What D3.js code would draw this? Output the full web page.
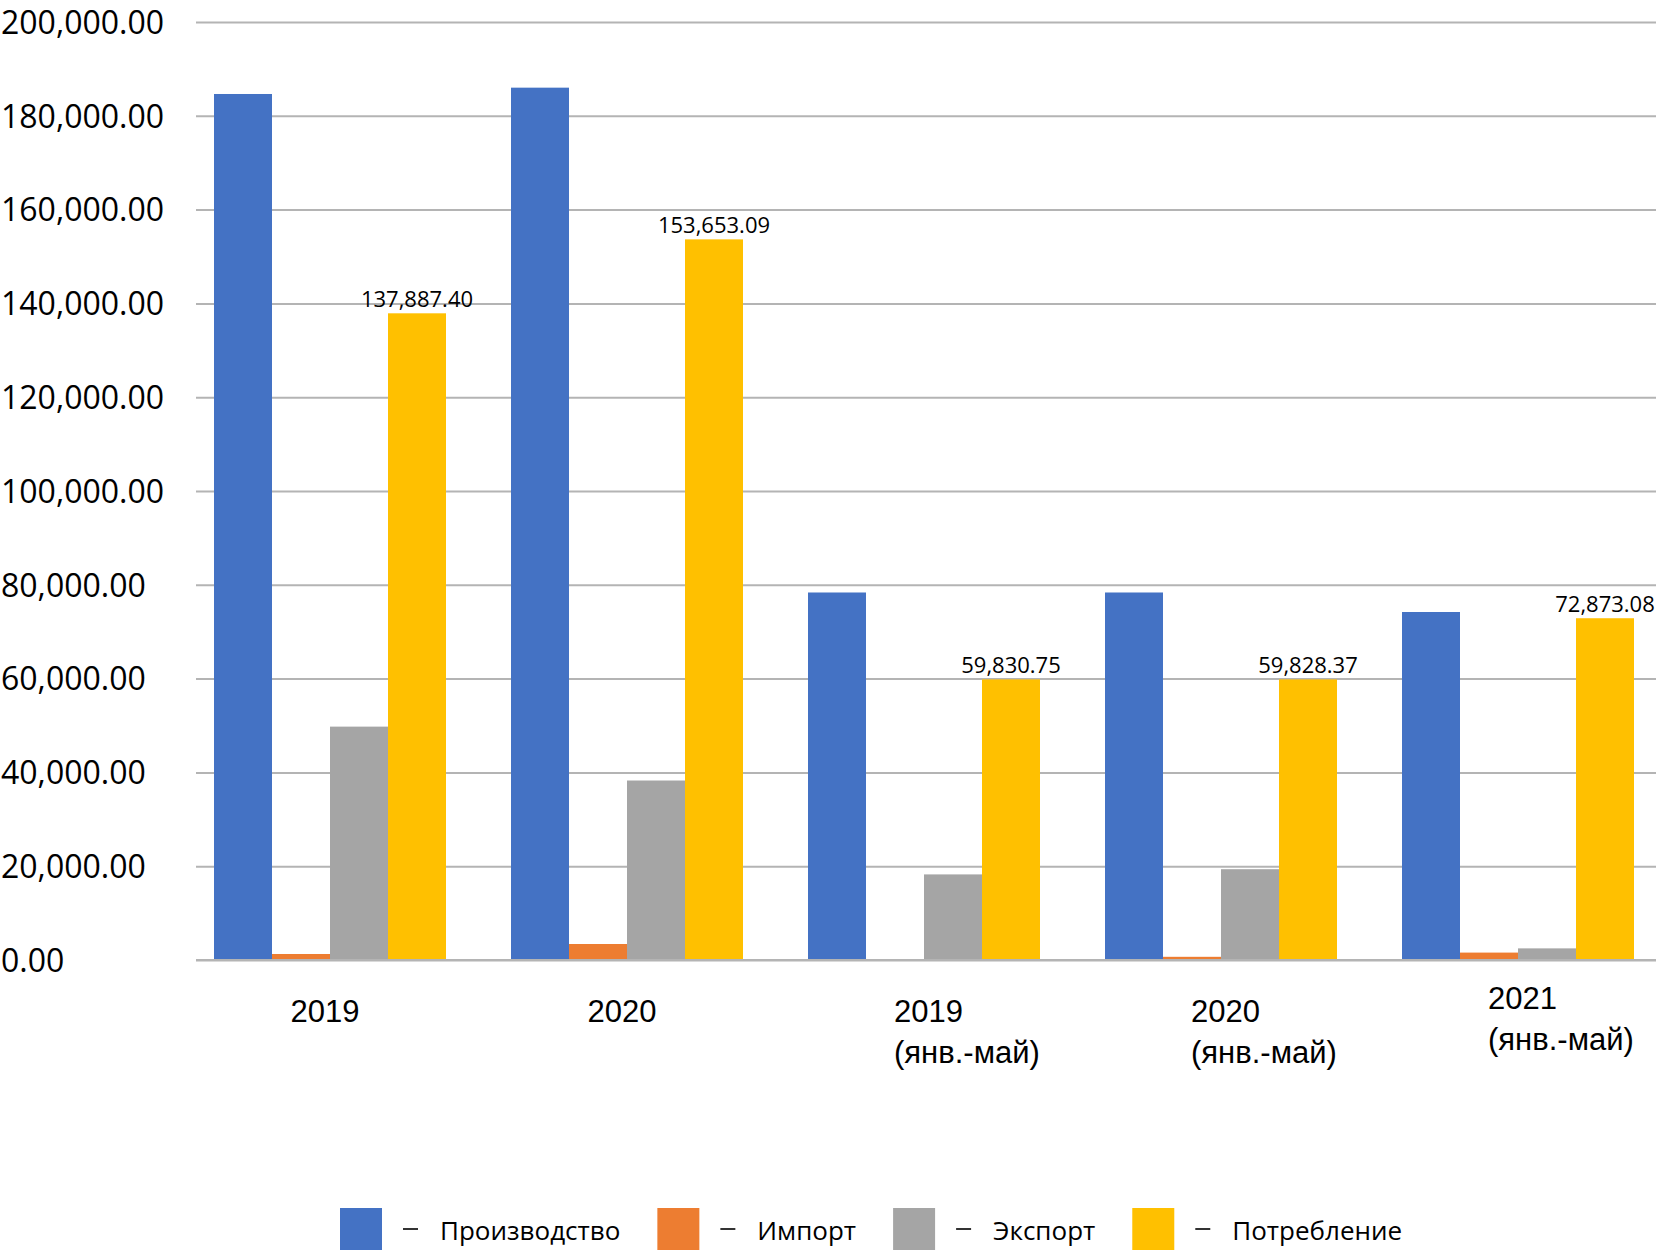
<!DOCTYPE html>
<html>
<head>
<meta charset="utf-8">
<script src="https://cdn.jsdelivr.net/npm/d3@7"></script>
<style>
  html, body { margin: 0; padding: 0; background: #fff; }
  svg { display: block; font-family: "Open Sans", "Noto Sans", sans-serif; }
</style>
</head>
<body>
<svg id="chart" width="1656" height="1250"></svg>
<script>
// ---- data ----
const categories = ["2019", "2020", "2019\n(янв.-май)", "2020\n(янв.-май)", "2021\n(янв.-май)"];
const seriesNames = ["Производство", "Импорт", "Экспорт", "Потребление"];
const production  = [184650, 186000, 78360, 78360, 74200];
const imports     = [1280, 3410, 0, 680, 1580];
const exports     = [49760, 38270, 18250, 19360, 2480];
const consumption = [137887.40, 153653.09, 59830.75, 59828.37, 72873.08];
const yTicks = [0, 20000, 40000, 60000, 80000, 100000, 120000, 140000, 160000, 180000, 200000];
const colors = ["#4472C4", "#ED7D31", "#A5A5A5", "#FFC000"];

const seriesValues = [production, imports, exports, consumption];

const svg = d3.select("#chart");
const W = 1656;

const y = d3.scaleLinear().domain([0, 200000]).range([960, 22]);
const x0 = d3.scaleBand().domain(categories).range([214, 1634]).paddingInner(65 / 297).paddingOuter(0);
const x1 = d3.scaleBand().domain(seriesNames).range([0, x0.bandwidth()]).padding(0);
const color = d3.scaleOrdinal().domain(seriesNames).range(colors);

// gridlines
const grid = svg.append("g").attr("transform", `translate(${W},0)`)
  .call(d3.axisLeft(y).tickValues(yTicks).tickSize(W - 196).tickFormat(""));
grid.select(".domain").remove();
grid.selectAll(".tick line").attr("stroke", "#b4b4b4").attr("stroke-width", 2);

// y labels
const yAx = svg.append("g").attr("transform", "translate(0,0)")
  .call(d3.axisRight(y).tickValues(yTicks).tickSize(0).tickPadding(0).tickFormat(d3.format(",.2f")));
yAx.select(".domain").remove();
yAx.selectAll(".tick text")
  .attr("x", 1).attr("dy", "0.35em")
  .attr("text-anchor", "start")
  .style("font-size", "32px").style("font-family", "'Open Sans', sans-serif").attr("fill", "#000");

// bars
const groups = svg.append("g").selectAll("g").data(categories).join("g")
  .attr("transform", d => `translate(${x0(d)},0)`);
groups.selectAll("rect")
  .data((c, ci) => seriesNames.map((s, si) => ({ s, v: seriesValues[si][ci] })))
  .join("rect")
  .attr("x", d => x1(d.s))
  .attr("width", x1.bandwidth())
  .attr("y", d => y(d.v))
  .attr("height", d => y(0) - y(d.v))
  .attr("fill", d => color(d.s));

// baseline redraw over bars
svg.append("line").attr("x1", 196).attr("x2", W).attr("y1", y(0)).attr("y2", y(0))
  .attr("stroke", "#b4b4b4").attr("stroke-width", 2);

// data labels on consumption
svg.append("g").selectAll("text").data(categories).join("text")
  .attr("x", (c) => x0(c) + x1("Потребление") + x1.bandwidth() / 2)
  .attr("y", (c, i) => y(consumption[i]) - 6)
  .attr("text-anchor", "middle")
  .style("font-size", "22px").attr("fill", "#000")
  .text((c, i) => d3.format(",.2f")(consumption[i]));

// x axis labels
const xAx = svg.append("g").attr("transform", `translate(0,${y(0)})`)
  .call(d3.axisBottom(x0).tickSize(0).tickFormat(""));
xAx.select(".domain").remove();
xAx.selectAll(".tick").each(function (d, i) {
  const lines = d.split("\n");
  const t = d3.select(this).append("text")
    .attr("fill", "#000").style("font-size", "31px")
    .attr("text-anchor", lines.length > 1 ? "start" : "middle");
  const dx = lines.length > 1 ? -30 : -5;
  const base = (i === 4) ? 49 : 62;
  lines.forEach((ln, k) => {
    t.append("tspan").attr("x", dx).attr("y", base + k * 41).text(ln);
  });
});

// legend
const legend = svg.append("g");
let lx = 340;
seriesNames.forEach((s, i) => {
  legend.append("rect").attr("x", lx).attr("y", 1208).attr("width", 42).attr("height", 42).attr("fill", colors[i]);
  legend.append("line").attr("x1", lx + 63).attr("x2", lx + 78).attr("y1", 1229).attr("y2", 1229)
    .attr("stroke", "#000").attr("stroke-width", 1.6);
  const t = legend.append("text").attr("x", lx + 100).attr("y", 1240).style("font-size", "26px").attr("fill", "#000").text(s);
  lx = lx + 100 + t.node().getComputedTextLength() + 37;
});
</script>
</body>
</html>
